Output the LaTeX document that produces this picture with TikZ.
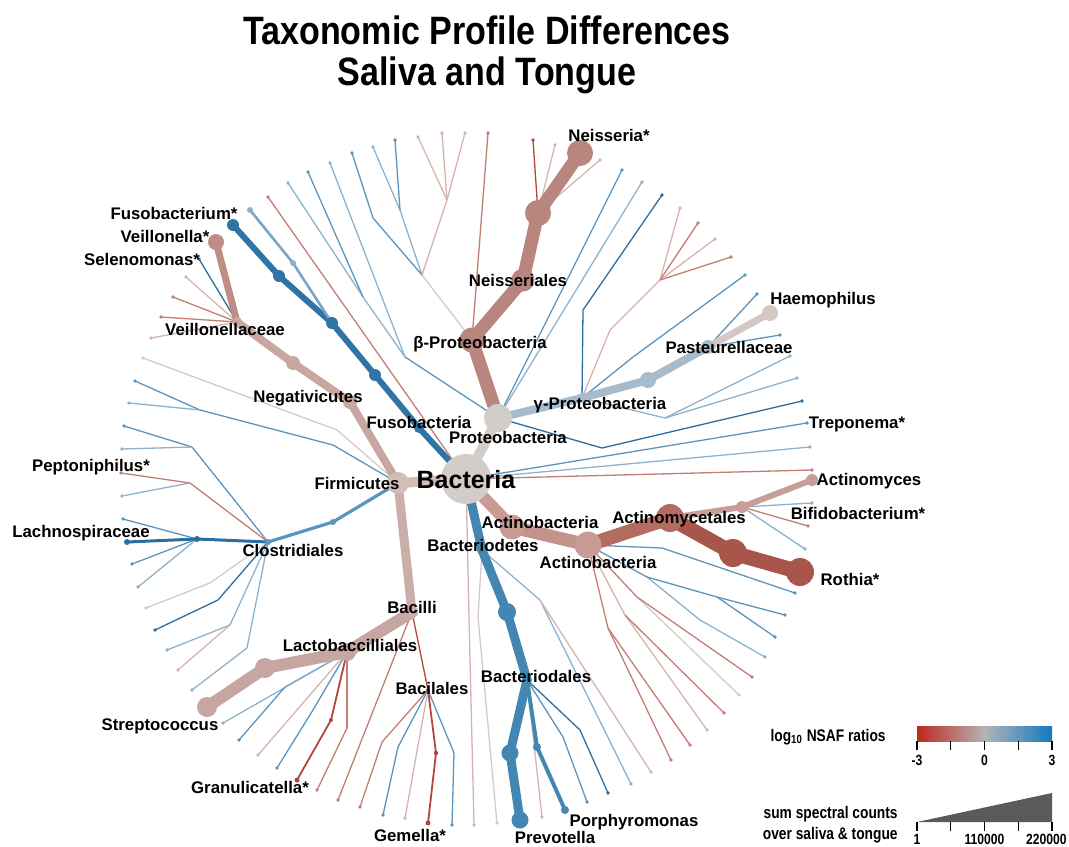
\documentclass[tikz,border=0pt]{standalone}
\usepackage{fontspec}
\setmainfont{Liberation Sans}
\newfontfamily\narrowfont{Liberation Sans}[FakeStretch=0.82]
\newfontfamily\titlefont{Liberation Sans}[FakeStretch=0.86]

\definecolor{trunk}{HTML}{D3CDCA}
\definecolor{rosy}{HTML}{B8867E}
\definecolor{rosyL}{HTML}{C9A7A1}
\definecolor{velC}{HTML}{BE8E86}
\definecolor{firmC}{HTML}{D3BDB9}
\definecolor{bacC}{HTML}{CBAEAA}
\definecolor{strC}{HTML}{C7A6A1}
\definecolor{fuso}{HTML}{2E75A5}
\definecolor{bact}{HTML}{4386B1}
\definecolor{gamC}{HTML}{A6BCCC}
\definecolor{haeC}{HTML}{D4C8C4}
\definecolor{act}{HTML}{C89C95}
\definecolor{act2}{HTML}{C3928A}
\definecolor{amyC}{HTML}{B36C60}
\definecolor{roth}{HTML}{A8564A}
\definecolor{actm}{HTML}{C79E98}
\definecolor{cRa}{HTML}{B5473A}
\definecolor{cRb}{HTML}{C37E74}
\definecolor{cPk}{HTML}{D6B3AE}
\definecolor{cGy}{HTML}{D2CCC8}
\definecolor{cBl}{HTML}{8DB2CC}
\definecolor{cBm}{HTML}{5B95BD}
\definecolor{cBs}{HTML}{2B6EA0}
\definecolor{legR}{HTML}{C0281E}
\definecolor{legG}{HTML}{B3B3B3}
\definecolor{legB}{HTML}{1479C4}
\definecolor{triC}{HTML}{5A5A5A}

\begin{document}
\begin{tikzpicture}[x=0.5pt, y=-0.5pt,
    leaf/.style={line width=0.65pt},
    branch/.style={line cap=round, line join=round},
    lbl/.style={font=\bfseries\fontsize{8.4}{9}\selectfont, inner sep=0pt, anchor=base},
    legtext/.style={font=\narrowfont\bfseries\fontsize{8.4}{10}\selectfont, inner sep=0pt, anchor=base east},
    ticklbl/.style={font=\narrowfont\bfseries\fontsize{7.4}{8}\selectfont, inner sep=0pt, anchor=base}]
  \useasboundingbox (0,0) rectangle (1069,846);

  % title
  \node[font=\titlefont\bfseries\fontsize{19.8}{22}\selectfont, anchor=base] (title1) at (487,44) {Taxonomic Profile Differences};
  \node[font=\titlefont\bfseries\fontsize{19.8}{22}\selectfont, anchor=base] (title2) at (487,85) {Saliva and Tongue};

  % tree nodes
  \coordinate (bac) at (466,479);
  \coordinate (prt) at (498,418);
  \coordinate (bet) at (472,340);
  \coordinate (ne1) at (523,280);
  \coordinate (ne2) at (538,213);
  \coordinate (nei) at (580,153);
  \coordinate (gam) at (582,398);
  \coordinate (ga2) at (648,380);
  \coordinate (pas) at (708,347);
  \coordinate (hae) at (770,313);
  \coordinate (frm) at (398,483);
  \coordinate (neg) at (350,402);
  \coordinate (ng2) at (293,363);
  \coordinate (vei) at (237,322);
  \coordinate (vel) at (216,242);
  \coordinate (fu1) at (419,428);
  \coordinate (fu2) at (375,375);
  \coordinate (fu3) at (332,323);
  \coordinate (fu4) at (279,276);
  \coordinate (fsb) at (233,225);
  \coordinate (fx1) at (293,263);
  \coordinate (fx2) at (250,210);
  \coordinate (bdt) at (482,550);
  \coordinate (bd2) at (507,612);
  \coordinate (bdl) at (527,680);
  \coordinate (bd3) at (510,753);
  \coordinate (pre) at (520,820);
  \coordinate (po1) at (537,747);
  \coordinate (por) at (565,810);
  \coordinate (ac1) at (512,527);
  \coordinate (ac2) at (588,545);
  \coordinate (amy) at (670,518);
  \coordinate (ro1) at (733,553);
  \coordinate (rot) at (800,572);
  \coordinate (am2) at (742,507);
  \coordinate (acm) at (812,480);
  \coordinate (bci) at (412,612);
  \coordinate (lac) at (347,652);
  \coordinate (st1) at (265,668);
  \coordinate (str) at (207,707);
  \coordinate (clx) at (333,522);
  \coordinate (clo) at (268,542);
  \coordinate (lch) at (197,539);
  \coordinate (lct) at (127,542);
  \coordinate (bcl) at (428,690);
  \coordinate (ge1) at (436,753);
  \coordinate (gem) at (428,823);
  \coordinate (gr1) at (331,720);
  \coordinate (gra) at (297,780);

  % inner joints of the thin lines
  \foreach \n/\x/\y/\p/\c in {jF1/337/430/frm/cGy, jF2/333/445/frm/cBm, jF3/200/410/jF2/cBm,
      jC1/192/447/clo/cBm, jC2/190/483/clo/cRb, jC3/210/583/clo/cGy, jC4/218/600/clo/cBs,
      jC5/230/625/clo/cBl, jC6/247/648/clo/cBl, jL1/285/687/lac/cBm, jL2/313/710/lac/cBm,
      jL3/347/728/lac/cRb, jS1/382/742/bcl/cRb, jS2/398/747/bcl/cBm, jS3/454/753/bcl/cBm,
      jB1/469/617/bac/cPk, jB2/478/617/bdt/cGy, jD1/563/737/bdl/cBm, jD2/580/730/bdl/cBs,
      jA1/540/600/bdt/cBl, jA2/608/628/ac2/cRb, jA3/625/615/ac2/cPk, jA4/637/597/ac2/cRb,
      jA5/647/577/ac2/cBm, jA6/700/620/jA5/cBl, jA7/717/597/jA5/cBm, jA8/662/548/ac2/cBm,
      jP1/602/448/prt/cBs, jG1/665/418/gam/cBl, jG2/633/357/gam/cBm, jG3/610/330/gam/cPk,
      jG4/660/280/jG3/cPk, jG5/583/310/gam/cBs, jT1/422/275/bet/cGy, jT2/447/200/jT1/cPk,
      jT3/405/357/prt/cBm, jT4/363/297/jT3/cBl, jT5/373/218/jT1/cBm, jT6/400/210/jT1/cBl} {
    \coordinate (\n) at (\x,\y);
    \draw[leaf, \c] (\p) -- (\n);
  }
  \draw[leaf, cRa] (bci) -- (bcl);

  % leaves
  \foreach \p/\x/\y/\c [count=\i] in {jF1/143/358/cGy, jF3/135/381/cBm, jF3/129/403/cBl,
      vei/199/259/cBs, vei/186/277/cPk, vei/173/297/cRb, vei/161/317/cRb, vei/151/338/cPk,
      jC1/124/426/cBm, jC1/122/449/cBl, jC2/121/473/cRb, jC2/122/496/cBl,
      lch/123/519/cBm, lch/132/564/cBm, lch/138/587/cBl, jC3/146/608/cGy, jC4/155/630/cBs,
      jC5/167/650/cBl, jC5/178/670/cPk, jC6/192/690/cBl,
      lac/223/723/cBl, jL1/239/740/cBm, lac/258/755/cPk, jL2/277/768/cBm, jL3/317/790/cRb,
      bci/338/800/cRb, jS1/360/807/cRb, jS2/383/815/cBm, bcl/405/818/cPk, jS3/452/825/cBm,
      jB1/474/825/cPk, jB2/497/823/cGy, bdl/542/817/cPk, jD1/587/802/cBm, jD2/608/793/cBs,
      jA1/631/784/cBl, jA1/651/772/cPk, jA2/671/760/cRb, jA2/690/745/cRb, jA3/707/730/cPk,
      jA3/724/713/cRb, jA4/739/695/cGy, jA4/752/677/cRb, jA6/765/657/cBl, jA7/775/637/cBm,
      jA7/785/615/cBm, jA8/795/593/cBm, am2/812/503/cBl, am2/808/526/cRb, am2/805/549/cBl,
      bac/812/470/cRb, bac/810/447/cBl, bac/807/423/cBm, jP1/802/401/cBs,
      jG1/797/378/cBl, jG1/790/356/cBl, pas/757/294/cBm, pas/780/335/cBm, jG2/745/275/cBm,
      jG4/680/208/cPk, jG4/698/223/cRb, jG4/715/239/cPk, jG4/731/257/cRb, jG5/662/195/cBs,
      prt/622/170/cBm, prt/642/182/cBl, ne2/533/140/cRa, ne2/555/145/cPk, ne2/600/160/cPk,
      bet/488/133/cRb, jT2/418/137/cPk, jT2/442/133/cPk, jT2/465/133/cPk,
      jT4/288/183/cBl, jT4/308/172/cBm, jT3/330/163/cBl, jT5/352/153/cBm,
      jT6/373/147/cBl, jT6/395/140/cBm, bac/268/197/cRb} {
    \coordinate (lf\i) at (\x,\y);
    \draw[leaf, \c] (\p) -- (lf\i);
    \fill[\c] (lf\i) circle (1.8);
  }

  % highlighted branches
  \draw[branch, trunk, line width=5pt] (bac) -- (prt);
  \draw[branch, rosy, line width=6.5pt] (prt) -- (bet) -- (ne1) -- (ne2) -- (nei);
  \draw[branch, gamC, line width=4pt] (prt) -- (gam) -- (ga2) -- (pas);
  \draw[branch, haeC, line width=3.5pt] (pas) -- (hae);
  \draw[branch, firmC, line width=5pt] (bac) -- (frm);
  \draw[branch, rosyL, line width=4pt] (frm) -- (neg) -- (ng2) -- (vei);
  \draw[branch, velC, line width=3.5pt] (vei) -- (vel);
  \draw[branch, fuso, line width=3pt] (bac) -- (fu1) -- (fu2) -- (fu3) -- (fu4) -- (fsb);
  \draw[branch, cBl!80!fuso, line width=1.3pt] (fu3) -- (fx1) -- (fx2);
  \draw[branch, bact, line width=4.5pt] (bac) -- (bdt) -- (bd2) -- (bdl) -- (bd3) -- (pre);
  \draw[branch, bact, line width=2pt] (bdl) -- (po1) -- (por);
  \draw[branch, act, line width=6pt] (bac) -- (ac1);
  \draw[branch, act2, line width=6.5pt] (ac1) -- (ac2);
  \draw[branch, amyC, line width=7pt] (ac2) -- (amy);
  \draw[branch, roth, line width=7.5pt] (amy) -- (ro1) -- (rot);
  \draw[branch, actm, line width=3pt] (amy) -- (am2) -- (acm);
  \draw[branch, bacC, line width=4.5pt] (frm) -- (bci);
  \draw[branch, strC, line width=6pt] (bci) -- (lac) -- (st1) -- (str);
  \draw[branch, cBm, line width=1.6pt] (frm) -- (clx) -- (clo);
  \draw[branch, cBs, line width=1.5pt] (clo) -- (lch) -- (lct);
  \draw[branch, cRa, line width=0.9pt] (lac) -- (gr1) -- (gra);
  \draw[branch, cRa, line width=0.9pt] (bcl) -- (ge1) -- (gem);

  % dots on the nodes
  \foreach \n/\r/\c in {bac/25/trunk, prt/14/trunk, bet/12.5/rosy, ne1/11.5/rosy, ne2/13/rosy,
      nei/13/rosy, gam/5/gamC, ga2/8/gamC, pas/7/gamC, hae/8/haeC, frm/11/firmC,
      neg/7/rosyL, ng2/7/rosyL, vei/5/rosyL, vel/8/velC, fu1/5/fuso, fu2/6/fuso, fu3/6/fuso,
      fu4/6/fuso, fsb/6/fuso, fx1/3/cBl, fx2/3/cBl, bdt/5/bact, bd2/9/bact, bdl/5/bact,
      bd3/8.5/bact, pre/8.5/bact, po1/4/bact, por/4/bact, ac1/12.5/act, ac2/13.5/act,
      amy/14/amyC, ro1/14/roth, rot/14/roth, am2/6/actm, acm/6/actm, bci/6/bacC,
      lac/9/strC, st1/10/strC, str/10/strC, clx/3/cBm, clo/3/cBm, lch/3/cBs, lct/3/cBs,
      bcl/2/cRa, ge1/2.2/cRa, gem/2.5/cRa, gr1/2/cRa, gra/2.5/cRa} {
    \fill[\c] (\n) circle (\r);
  }

  % labels
  \node[lbl] (tNei) at (609,141) {Neisseria*};
  \node[lbl] (tFsb) at (174,219) {Fusobacterium*};
  \node[lbl] (tVel) at (165,242) {Veillonella*};
  \node[lbl] (tSel) at (142,265) {Selenomonas*};
  \node[lbl] (tNes) at (518,286) {Neisseriales};
  \node[lbl] (tHae) at (823,304) {Haemophilus};
  \node[lbl] (tVei) at (225,335) {Veillonellaceae};
  \node[lbl] (tBet) at (480,348) {β-Proteobacteria};
  \node[lbl] (tPas) at (729,353) {Pasteurellaceae};
  \node[lbl] (tNeg) at (308,402) {Negativicutes};
  \node[lbl] (tGam) at (600,409) {γ-Proteobacteria};
  \node[lbl] (tFus) at (419,428) {Fusobacteria};
  \node[lbl] (tTre) at (857,428) {Treponema*};
  \node[lbl] (tPrt) at (508,443) {Proteobacteria};
  \node[lbl] (tPep) at (91,471) {Peptoniphilus*};
  \node[lbl, font=\bfseries\fontsize{12.5}{14}\selectfont] (tBac) at (466,488) {Bacteria};
  \node[lbl] (tFrm) at (357,489) {Firmicutes};
  \node[lbl] (tAcm) at (869,485) {Actinomyces};
  \node[lbl] (tAmy) at (679,523) {Actinomycetales};
  \node[lbl] (tAc1) at (540,528) {Actinobacteria};
  \node[lbl] (tBif) at (858,519) {Bifidobacterium*};
  \node[lbl] (tLch) at (81,537) {Lachnospiraceae};
  \node[lbl] (tBdt) at (483,551) {Bacteriodetes};
  \node[lbl] (tClo) at (293,556) {Clostridiales};
  \node[lbl] (tAc2) at (598,568) {Actinobacteria};
  \node[lbl] (tRot) at (850,585) {Rothia*};
  \node[lbl] (tBci) at (412,613) {Bacilli};
  \node[lbl] (tLac) at (350,651) {Lactobaccilliales};
  \node[lbl] (tBdl) at (536,682) {Bacteriodales};
  \node[lbl] (tBcl) at (432,694) {Bacilales};
  \node[lbl] (tStr) at (160,730) {Streptococcus};
  \node[lbl] (tGra) at (250,793) {Granulicatella*};
  \node[lbl] (tGem) at (410,841) {Gemella*};
  \node[lbl] (tPor) at (634,826) {Porphyromonas};
  \node[lbl] (tPre) at (555,843) {Prevotella};

  % legend
  \node[legtext] (legLog) at (886,741) {log\textsubscript{10} NSAF ratios};
  \shade[left color=legR, right color=legB, middle color=legG] (917,726) rectangle (1052,741);
  \foreach \x in {917,950.75,984.5,1018.25,1052}
    \draw[line width=0.6pt] (\x,741) -- (\x,750);
  \node[ticklbl] (legM3) at (917,765) {-3};
  \node[ticklbl] (leg0) at (984.5,765) {0};
  \node[ticklbl] (legP3) at (1052,765) {3};

  \node[legtext] (legSum1) at (898,818) {sum spectral counts};
  \node[legtext] (legSum2) at (898,839) {over saliva \& tongue};
  \fill[triC] (917,822) -- (1052,793) -- (1052,822) -- cycle;
  \foreach \x in {917,950.75,984.5,1018.25,1052}
    \draw[line width=0.6pt] (\x,822) -- (\x,831);
  \node[ticklbl] (legC1) at (917,844) {1};
  \node[ticklbl] (legC2) at (984.5,844) {110000};
  \node[ticklbl, anchor=base east] (legC3) at (1067,844) {220000};
\end{tikzpicture}
\end{document}
